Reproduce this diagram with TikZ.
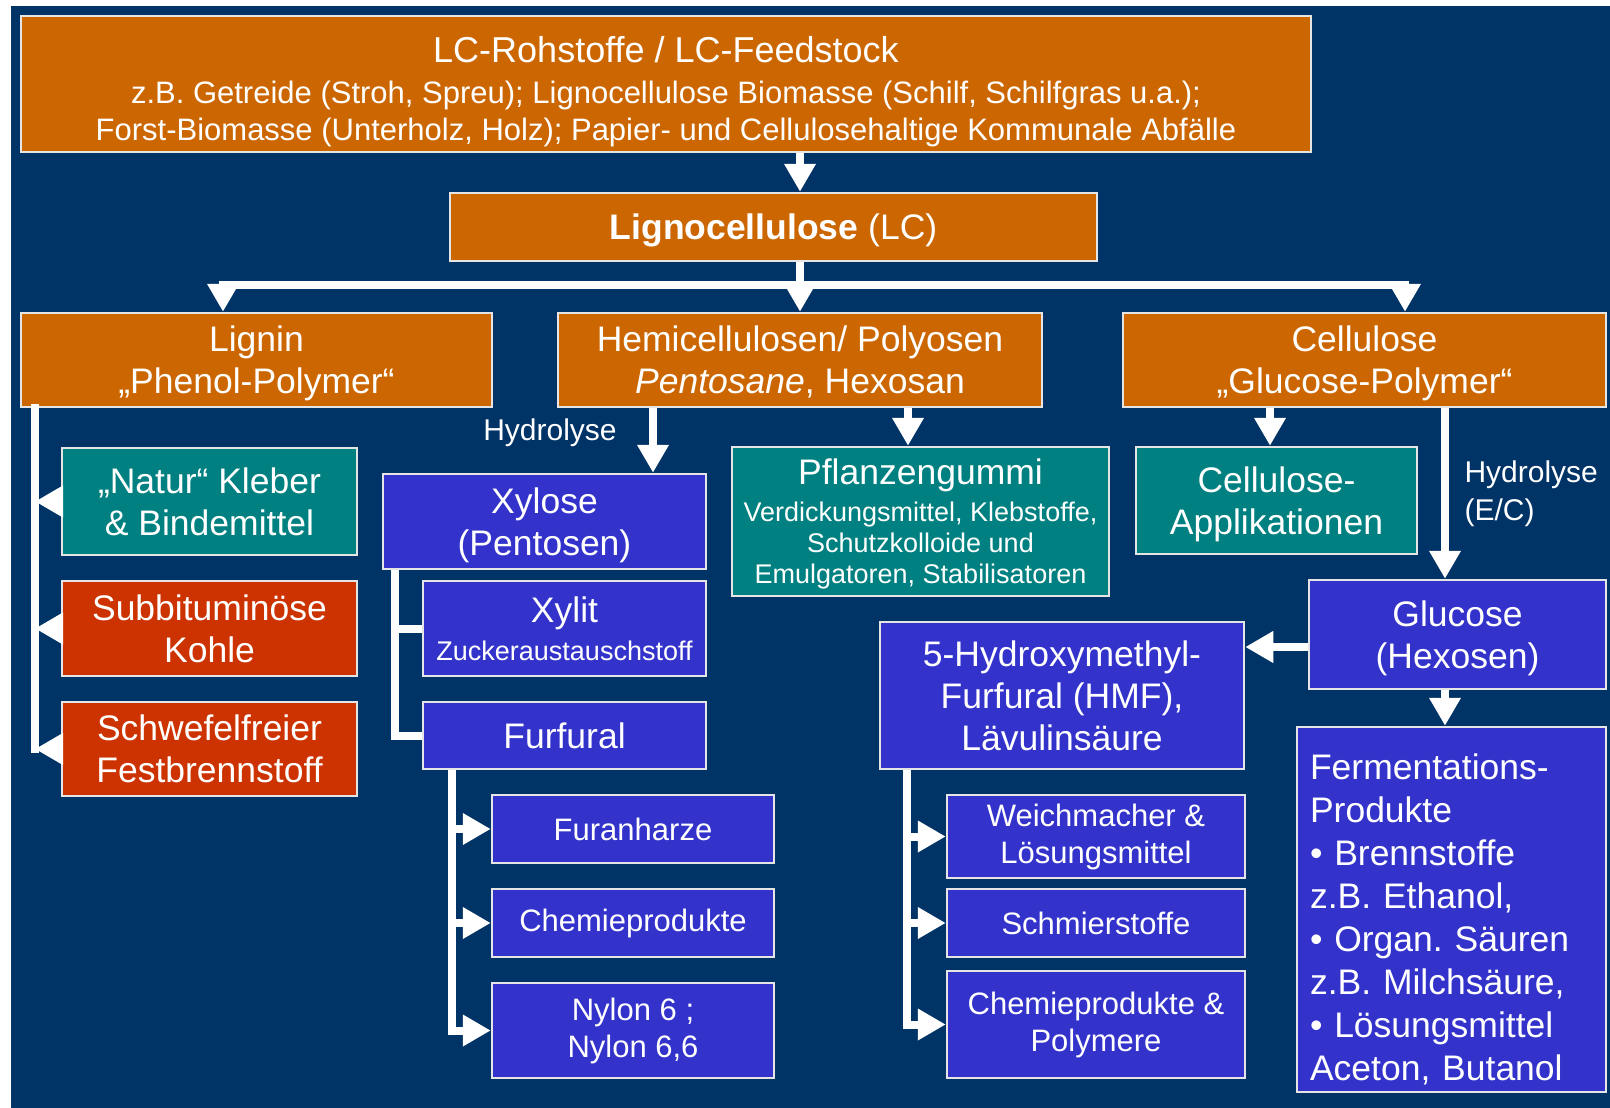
\documentclass[tikz,border=0pt]{standalone}
\usepackage{fontspec}
\setmainfont{Liberation Sans}
\frenchspacing
\usetikzlibrary{arrows.meta}
\definecolor{cFondo}{RGB}{0,51,102}
\definecolor{cNaranja}{RGB}{204,102,0}
\definecolor{cVerde}{RGB}{0,128,128}
\definecolor{cRojo}{RGB}{204,51,0}
\definecolor{cAzul}{RGB}{51,51,204}
\begin{document}
\begin{tikzpicture}[x=1pt,y=-1pt,
    caja/.style={draw=gray!20, line width=2.5pt, text=white, align=center, inner sep=2pt,
      font=\fontsize{35.5}{42}\selectfont, text depth=0pt},
    naranja/.style={caja, fill=cNaranja},
    verde/.style={caja, fill=cVerde},
    rojo/.style={caja, fill=cRojo},
    azul/.style={caja, fill=cAzul},
    chica/.style={font=\fontsize{31}{37}\selectfont, text depth=},
    mini/.style={font=\fontsize{27}{31}\selectfont},
    link/.style={draw=white, line width=8pt},
    arr/.style={link, -{Triangle[length=28pt,width=30pt]}},
    etiqueta/.style={text=white, align=left, font=\fontsize{30}{38}\selectfont}]

    % Fondo
    \fill[cFondo] (11,6) rectangle (1610,1108);
    \useasboundingbox (0,0) rectangle (1610,1108);

    % Materia prima
    \node[naranja, chica, minimum width=1290pt, minimum height=136pt] (feed) at (666,84)
        {{\fontsize{36}{41}\selectfont\rule{0pt}{41pt}LC-Rohstoffe / LC-Feedstock}\\[4pt]
         z.B. Getreide (Stroh, Spreu); Lignocellulose Biomasse (Schilf, Schilfgras u.a.);\\
         Forst-Biomasse (Unterholz, Holz); Papier- und Cellulosehaltige Kommunale Abfälle};
    \node[naranja, minimum width=647pt, minimum height=68pt] (lc) at (773.5,227)
        {\textbf{Lignocellulose} (LC)};

    % Componentes
    \node[naranja, minimum width=471pt, minimum height=94pt] (lignin) at (256.5,360)
        {Lignin\\„Phenol-Polymer“};
    \node[naranja, minimum width=484pt, minimum height=94pt] (hemi) at (800,360)
        {Hemicellulosen/ Polyosen\\\textit{Pentosane}, Hexosan};
    \node[naranja, minimum width=483pt, minimum height=94pt] (cell) at (1364.5,360)
        {Cellulose\\„Glucose-Polymer“};

    % Rama lignina
    \node[verde, minimum width=295pt, minimum height=107pt] (natur) at (209.5,501.5)
        {„Natur“ Kleber\\\& Bindemittel};
    \node[rojo, minimum width=295pt, minimum height=95pt] (subbit) at (209.5,628.5)
        {Subbituminöse\\Kohle};
    \node[rojo, minimum width=295pt, minimum height=94pt] (schwefel) at (209.5,749)
        {Schwefelfreier\\Festbrennstoff};

    % Rama hemicelulosa
    \node[azul, minimum width=323pt, minimum height=95pt] (xylose) at (544.5,521.5)
        {Xylose\\(Pentosen)};
    \node[azul, minimum width=283pt, minimum height=95pt] (xylit) at (564.5,628.5)
        {Xylit\\[-4pt]{\fontsize{27}{31}\selectfont Zuckeraustauschstoff}};
    \node[azul, minimum width=283pt, minimum height=67pt] (furfural) at (564.5,735.5)
        {Furfural};
    \node[azul, chica, minimum width=282pt, minimum height=68pt] (furan) at (633,829)
        {Furanharze};
    \node[azul, chica, minimum width=282pt, minimum height=68pt] (chemA) at (633,923)
        {Chemieprodukte};
    \node[azul, chica, minimum width=282pt, minimum height=95pt] (nylon) at (633,1030.5)
        {Nylon 6 ;\\Nylon 6,6};
    \node[verde, mini, minimum width=377pt, minimum height=149pt] (pflanz) at (920.5,521.5)
        {{\fontsize{35.5}{42}\selectfont Pflanzengummi}\\[6pt]
         Verdickungsmittel, Klebstoffe,\\Schutzkolloide und\\Emulgatoren, Stabilisatoren};

    % Rama celulosa
    \node[verde, minimum width=281pt, minimum height=107pt] (cellapp) at (1276.5,500.5)
        {Cellulose-\\Applikationen};
    \node[azul, minimum width=297pt, minimum height=109pt] (glucose) at (1457.5,634.5)
        {Glucose\\(Hexosen)};
    \node[azul, minimum width=364pt, minimum height=147pt] (hmf) at (1062,695.5)
        {5-Hydroxymethyl-\\Furfural (HMF),\\Lävulinsäure};
    \node[azul, minimum width=309pt, minimum height=365pt, text width=283pt, inner xsep=13pt,
        align=left, font=\fontsize{35.5}{43}\selectfont, text depth=,
        execute at begin node={\rule{0pt}{46pt}}] (ferm) at (1451.5,909.5)
        {Fermentations-\\Produkte\\• Brennstoffe\\z.B. Ethanol,\\• Organ. Säuren\\
         z.B. Milchsäure,\\• Lösungsmittel\\Aceton, Butanol};
    \node[azul, chica, minimum width=298pt, minimum height=83pt] (weich) at (1096,836.5)
        {Weichmacher \&\\Lösungsmittel};
    \node[azul, chica, minimum width=298pt, minimum height=68pt] (schmier) at (1096,923)
        {Schmierstoffe};
    \node[azul, chica, minimum width=298pt, minimum height=107pt] (chemB) at (1096,1024.5)
        {Chemieprodukte \&\\Polymere};

    % Flechas superiores
    \draw[arr] (feed.south -| hemi) -- (lc.north -| hemi);
    \coordinate (barL) at (223,285);
    \coordinate (barR) at (1405,285);
    \draw[link, line cap=rect] (barL) -- (barR);
    \draw[arr] (lc.south -| hemi) -- (hemi.north);
    \draw[arr] (barL) -- (barL |- lignin.north);
    \draw[arr] (barR) -- (barR |- cell.north);

    % Lignina
    \coordinate (ltr) at (35,0);
    \draw[link, line cap=rect] (lignin.south -| ltr) -- (schwefel.west -| ltr);
    \draw[arr] (natur.west) -- (natur.west -| ltr);
    \draw[arr] (subbit.west) -- (subbit.west -| ltr);
    \draw[arr] (schwefel.west) -- (schwefel.west -| ltr);

    % Hemicelulosa
    \coordinate (hx) at (653,0);
    \coordinate (px) at (908,0);
    \draw[arr] (hemi.south -| hx) -- (xylose.north -| hx);
    \node[etiqueta] (hyd1) at (550,433) {Hydrolyse};
    \draw[arr] (hemi.south -| px) -- (pflanz.north -| px);
    \coordinate (xtr) at (395,0);
    \draw[link] (xylose.south -| xtr) |- (furfural.west);
    \draw[link] (xylit.west -| xtr) -- (xylit.west);
    \coordinate (ftr) at (452,0);
    \draw[arr] (furfural.south -| ftr) |- (nylon.west);
    \draw[arr] (furan.west -| ftr) -- (furan.west);
    \draw[arr] (chemA.west -| ftr) -- (chemA.west);

    % Celulosa
    \coordinate (kx) at (1270,0);
    \coordinate (gx) at (1445,0);
    \draw[arr] (cell.south -| kx) -- (cellapp.north -| kx);
    \draw[arr] (cell.south -| gx) -- (glucose.north -| gx);
    \node[etiqueta, anchor=west] (hyd2) at (1461,494) {Hydrolyse\\(E/C)};
    \coordinate (gy) at (0,647);
    \draw[arr] (glucose.west |- gy) -- (hmf.east |- gy);
    \draw[arr] (glucose.south -| gx) -- (ferm.north -| gx);
    \coordinate (htr) at (907,0);
    \draw[arr] (hmf.south -| htr) |- (chemB.west);
    \draw[arr] (weich.west -| htr) -- (weich.west);
    \draw[arr] (schmier.west -| htr) -- (schmier.west);
\end{tikzpicture}
\end{document}
